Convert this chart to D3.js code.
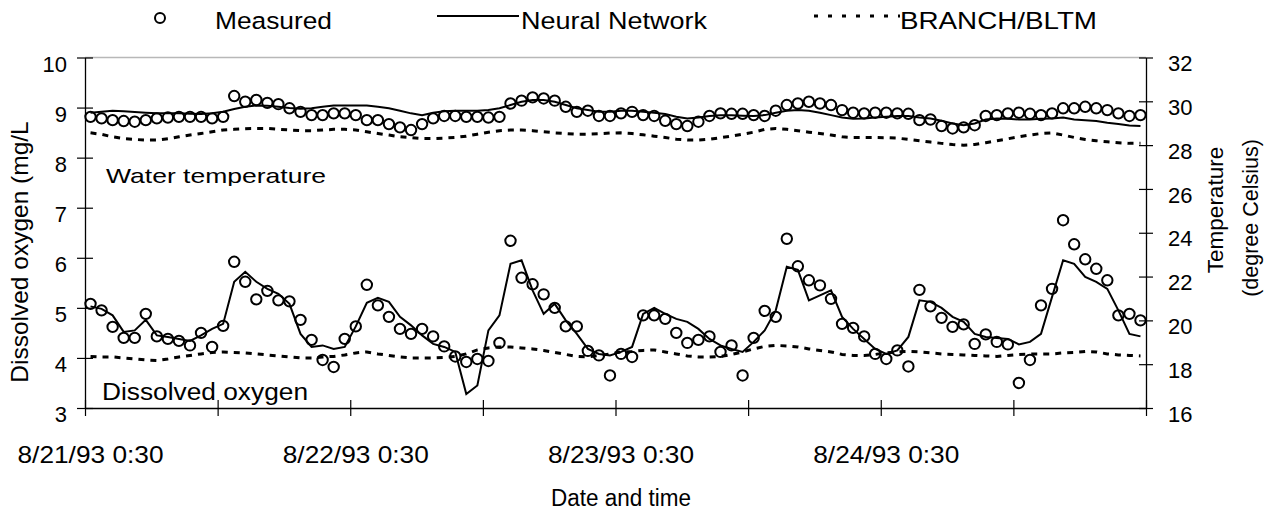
<!DOCTYPE html>
<html lang="en">
<head>
    <meta charset="UTF-8">
    <title>Dissolved oxygen and water temperature</title>
    <style>
        body { margin: 0; background: #fff; }
        svg { display: block; }
        text { font-family: "Liberation Sans", Arial, sans-serif; fill: #000; }
    </style>
</head>
<body>
    <div id="chart"></div>
    <script src="https://d3js.org/d3.v7.min.js"></script>
    <script>
        // hourly categories, 96 points starting 8/21/93 0:30
        const startTime = new Date(1993, 7, 21, 0, 30);
        const times = d3.range(96).map(i => d3.timeHour.offset(startTime, i));
        const labelIndexes = [0, 24, 48, 72];

        const doTicks = [3, 4, 5, 6, 7, 8, 9, 10];
        const tempTicks = [16, 18, 20, 22, 24, 26, 28, 30, 32];

        // Water temperature (degree Celsius)
        const measuredTemp = [
            29.29, 29.22, 29.14, 29.10, 29.07, 29.14, 29.22, 29.26, 29.29, 29.29, 29.29, 29.22, 29.29, 30.24, 29.98, 30.06, 29.93, 29.87, 29.68, 29.52, 29.37, 29.37, 29.45, 29.45, 29.37, 29.14,
            29.14, 28.96, 28.81, 28.69, 28.96, 29.22, 29.33, 29.33, 29.29, 29.29, 29.26, 29.29, 29.90, 30.03, 30.18, 30.13, 30.03, 29.75, 29.52, 29.57, 29.33, 29.33, 29.45, 29.52, 29.37, 29.33, 29.11,
            28.96, 28.87, 29.07, 29.33, 29.45, 29.43, 29.43, 29.37, 29.33, 29.57, 29.83, 29.90, 29.98, 29.90, 29.83, 29.60, 29.48, 29.45, 29.48, 29.48, 29.45, 29.43, 29.14, 29.17, 28.87, 28.76, 28.81,
            28.91, 29.33, 29.37, 29.45, 29.48, 29.43, 29.37, 29.45, 29.68, 29.68, 29.75, 29.68, 29.60, 29.45, 29.33, 29.37
        ];
        const nnTemp = [
            29.48, 29.52, 29.57, 29.55, 29.51, 29.48, 29.45, 29.45, 29.45, 29.43, 29.42, 29.45, 29.52, 29.65, 29.75, 29.81, 29.80, 29.75, 29.69, 29.66, 29.68, 29.75, 29.81, 29.81, 29.81, 29.81,
            29.75, 29.68, 29.57, 29.45, 29.37, 29.48, 29.55, 29.57, 29.57, 29.57, 29.60, 29.68, 29.83, 29.98, 30.06, 30.06, 29.98, 29.83, 29.68, 29.60, 29.52, 29.52, 29.57, 29.57, 29.52, 29.48, 29.42,
            29.30, 29.22, 29.26, 29.33, 29.36, 29.36, 29.34, 29.33, 29.37, 29.48, 29.57, 29.60, 29.57, 29.48, 29.37, 29.26, 29.20, 29.22, 29.26, 29.30, 29.33, 29.33, 29.26, 29.22, 29.11, 28.99, 28.91,
            28.99, 29.17, 29.22, 29.20, 29.17, 29.17, 29.20, 29.22, 29.26, 29.17, 29.14, 29.10, 29.02, 28.96, 28.90, 28.87
        ];
        const branchTemp = [
            28.56, 28.49, 28.38, 28.30, 28.26, 28.23, 28.23, 28.29, 28.38, 28.46, 28.53, 28.61, 28.69, 28.72, 28.75, 28.76, 28.76, 28.72, 28.69, 28.66, 28.66, 28.69, 28.72, 28.72, 28.69, 28.61,
            28.53, 28.46, 28.38, 28.34, 28.30, 28.30, 28.32, 28.35, 28.41, 28.50, 28.59, 28.66, 28.69, 28.69, 28.66, 28.61, 28.56, 28.53, 28.50, 28.50, 28.52, 28.55, 28.56, 28.53, 28.47, 28.41, 28.35,
            28.27, 28.23, 28.23, 28.27, 28.34, 28.41, 28.50, 28.59, 28.72, 28.76, 28.72, 28.66, 28.59, 28.53, 28.46, 28.38, 28.35, 28.35, 28.35, 28.34, 28.32, 28.26, 28.20, 28.14, 28.08, 28.03, 28.00,
            28.03, 28.11, 28.20, 28.29, 28.38, 28.46, 28.53, 28.56, 28.46, 28.35, 28.26, 28.20, 28.15, 28.11, 28.08, 28.08
        ];

        // Dissolved oxygen (mg/L)
        const measuredDO = [
            5.08, 4.95, 4.62, 4.40, 4.40, 4.88, 4.43, 4.38, 4.34, 4.25, 4.50, 4.22, 4.64, 5.92, 5.52, 5.17, 5.34, 5.15, 5.13, 4.76, 4.36, 3.96, 3.82, 4.38, 4.63, 5.46,
            5.05, 4.82, 4.58, 4.48, 4.58, 4.43, 4.23, 4.03, 3.92, 3.98, 3.94, 4.30, 6.34, 5.60, 5.47, 5.27, 5.00, 4.63, 4.63, 4.14, 4.05, 3.65, 4.08, 4.02, 4.85, 4.85, 4.78,
            4.50, 4.30, 4.36, 4.43, 4.12, 4.25, 3.65, 4.40, 4.94, 4.82, 6.38, 5.83, 5.55, 5.45, 5.18, 4.68, 4.60, 4.43, 4.08, 3.98, 4.15, 3.83, 5.36, 5.03, 4.80, 4.62, 4.67,
            4.28, 4.47, 4.32, 4.27, 3.50, 3.96, 5.05, 5.38, 6.75, 6.27, 5.97, 5.78, 5.55, 4.85, 4.88, 4.75
        ];
        const nnDO = [
            5.03, 4.98, 4.85, 4.52, 4.55, 4.76, 4.45, 4.42, 4.38, 4.34, 4.45, 4.58, 4.68, 5.52, 5.72, 5.52, 5.38, 5.28, 5.08, 4.48, 4.22, 4.25, 4.18, 4.22, 4.63, 5.10,
            5.20, 5.12, 4.82, 4.65, 4.45, 4.28, 4.22, 4.12, 3.28, 3.45, 4.55, 4.85, 5.88, 5.95, 5.35, 4.88, 5.08, 4.75, 4.48, 4.18, 4.08, 4.05, 4.12, 4.22, 4.88, 5.00, 4.88,
            4.78, 4.72, 4.58, 4.38, 4.25, 4.18, 4.12, 4.32, 4.55, 4.95, 5.82, 5.76, 5.15, 5.25, 5.35, 4.82, 4.58, 4.38, 4.18, 4.08, 4.15, 4.42, 5.15, 5.12, 5.00, 4.82, 4.72,
            4.48, 4.42, 4.40, 4.38, 4.27, 4.32, 4.48, 5.22, 5.95, 5.88, 5.62, 5.52, 5.38, 4.95, 4.48, 4.43
        ];
        const branchDO = [
            4.03, 4.02, 4.02, 4.00, 3.98, 3.96, 3.95, 3.98, 4.02, 4.05, 4.08, 4.11, 4.12, 4.11, 4.10, 4.08, 4.06, 4.04, 4.02, 4.00, 4.00, 4.02, 4.03, 4.06, 4.10, 4.12,
            4.08, 4.05, 4.02, 4.00, 4.00, 4.00, 4.01, 4.03, 4.08, 4.16, 4.20, 4.22, 4.22, 4.20, 4.18, 4.15, 4.11, 4.07, 4.03, 4.02, 4.05, 4.08, 4.12, 4.13, 4.15, 4.16, 4.12,
            4.08, 4.04, 4.02, 4.02, 4.03, 4.07, 4.12, 4.18, 4.23, 4.25, 4.24, 4.22, 4.18, 4.15, 4.12, 4.07, 4.05, 4.05, 4.07, 4.10, 4.12, 4.13, 4.12, 4.10, 4.08, 4.07, 4.06,
            4.05, 4.04, 4.03, 4.05, 4.07, 4.08, 4.08, 4.08, 4.10, 4.11, 4.13, 4.12, 4.08, 4.06, 4.05, 4.04
        ];

        const width = 1274;
        const height = 512;
        const plotLeft = 85, plotRight = 1146, plotTop = 57.5, plotBottom = 408;

        const svg = d3.select("#chart").append("svg")
            .attr("width", width)
            .attr("height", height);

        // category axis: one band per hour, points in the middle of each band
        const x = d3.scaleBand().domain(d3.range(times.length)).range([plotLeft, plotRight]);
        const cx = i => x(i) + x.bandwidth() / 2;
        const xEdge = d3.scaleLinear().domain([0, times.length]).range([plotLeft, plotRight]);

        const yDO = d3.scaleLinear().domain([3, 10]).range([plotBottom, plotTop]);
        const yT = d3.scaleLinear().domain([16, 32]).range([plotBottom, plotTop]);

        // grey line at the top of the plot
        svg.append("line")
            .attr("x1", plotLeft).attr("x2", plotRight)
            .attr("y1", yDO(10)).attr("y2", yDO(10))
            .attr("stroke", "#b8b8b8")
            .attr("stroke-width", 1.5);

        // left axis
        svg.append("g")
            .attr("transform", `translate(${plotLeft},0)`)
            .call(d3.axisLeft(yDO).tickValues(doTicks).tickFormat(d3.format("d"))
                .tickSizeInner(8).tickSizeOuter(0).tickPadding(10))
            .call(g => g.select(".domain").attr("stroke", "#000").attr("stroke-width", 1.3))
            .call(g => g.selectAll(".tick line").attr("x1", 8).attr("stroke-width", 1.2))
            .call(g => g.selectAll(".tick text")
                .attr("dy", "0.62em")
                .style("font-size", "22px")
                .style("font-family", "Liberation Sans, Arial, sans-serif"));

        // right axis
        svg.append("g")
            .attr("transform", `translate(${plotRight},0)`)
            .call(d3.axisRight(yT).tickValues(tempTicks).tickFormat(d3.format("d"))
                .tickSizeInner(7).tickSizeOuter(0).tickPadding(15))
            .call(g => g.select(".domain").attr("stroke", "#000").attr("stroke-width", 1.3))
            .call(g => g.selectAll(".tick line").attr("x1", -7).attr("stroke-width", 1.2))
            .call(g => g.selectAll(".tick text")
                .attr("dy", "0.6em")
                .style("font-size", "22px")
                .style("font-family", "Liberation Sans, Arial, sans-serif"));

        // bottom axis: tick marks between categories every 12 hours
        svg.append("g")
            .attr("transform", `translate(0,${plotBottom})`)
            .call(d3.axisBottom(xEdge).tickValues(d3.range(0, times.length + 1, 12)).tickFormat("").tickSizeInner(8).tickSizeOuter(0))
            .call(g => g.select(".domain").attr("stroke", "#000").attr("stroke-width", 1.6))
            .call(g => g.selectAll(".tick line").attr("y1", -8).attr("stroke-width", 1.2));

        const fmt = d3.timeFormat("%-m/%-d/%y %-H:%M");
        svg.append("g").selectAll("text")
            .data(labelIndexes)
            .enter().append("text")
            .attr("x", d => cx(d))
            .attr("y", 462.5)
            .attr("text-anchor", "middle")
            .attr("textLength", 146)
            .attr("lengthAdjust", "spacingAndGlyphs")
            .style("font-size", "24px")
            .text(d => fmt(times[d]));

        // lines
        const tempLine = d3.line().x((d, i) => cx(i)).y(d => yT(d));
        const doLine = d3.line().x((d, i) => cx(i)).y(d => yDO(d));

        const plot = svg.append("g");

        plot.append("path").datum(branchTemp)
            .attr("d", tempLine)
            .attr("fill", "none").attr("stroke", "#000")
            .attr("stroke-width", 3).attr("stroke-dasharray", "6,6");
        plot.append("path").datum(branchDO)
            .attr("d", doLine)
            .attr("fill", "none").attr("stroke", "#000")
            .attr("stroke-width", 3).attr("stroke-dasharray", "6,6");

        plot.append("path").datum(nnTemp)
            .attr("d", tempLine)
            .attr("fill", "none").attr("stroke", "#000").attr("stroke-width", 2);
        plot.append("path").datum(nnDO)
            .attr("d", doLine)
            .attr("fill", "none").attr("stroke", "#000").attr("stroke-width", 2);

        plot.append("g").selectAll("circle")
            .data(measuredTemp)
            .enter().append("circle")
            .attr("cx", (d, i) => cx(i))
            .attr("cy", d => yT(d))
            .attr("r", 5.2)
            .attr("fill", "none").attr("stroke", "#000").attr("stroke-width", 2);

        plot.append("g").selectAll("circle")
            .data(measuredDO)
            .enter().append("circle")
            .attr("cx", (d, i) => cx(i))
            .attr("cy", d => yDO(d))
            .attr("r", 5.2)
            .attr("fill", "none").attr("stroke", "#000").attr("stroke-width", 2);

        // in-plot labels
        svg.append("clipPath").attr("id", "wt-clip")
            .append("rect").attr("x", 0).attr("y", 0).attr("width", width).attr("height", 186);
        svg.append("text")
            .attr("clip-path", "url(#wt-clip)")
            .attr("x", 106).attr("y", 182.5)
            .attr("textLength", 220).attr("lengthAdjust", "spacingAndGlyphs")
            .style("font-size", "21px")
            .text("Water temperature");

        svg.append("text")
            .attr("x", 102).attr("y", 400)
            .attr("textLength", 206).attr("lengthAdjust", "spacingAndGlyphs")
            .style("font-size", "23px")
            .text("Dissolved oxygen");

        // axis titles
        svg.append("text")
            .attr("transform", "translate(28,252) rotate(-90)")
            .attr("text-anchor", "middle")
            .style("font-size", "24.5px")
            .text("Dissolved oxygen (mg/L");

        svg.append("text")
            .attr("transform", "translate(1223,210) rotate(-90)")
            .attr("text-anchor", "middle")
            .style("font-size", "22.5px")
            .text("Temperature");
        svg.append("text")
            .attr("transform", "translate(1258,218) rotate(-90)")
            .attr("text-anchor", "middle")
            .style("font-size", "21.5px")
            .text("(degree Celsius)");

        svg.append("text")
            .attr("x", 621).attr("y", 506)
            .attr("text-anchor", "middle")
            .attr("textLength", 140).attr("lengthAdjust", "spacingAndGlyphs")
            .style("font-size", "23px")
            .text("Date and time");

        // legend
        const legend = svg.append("g");
        legend.append("circle")
            .attr("cx", 160).attr("cy", 18).attr("r", 5)
            .attr("fill", "none").attr("stroke", "#000").attr("stroke-width", 2);
        legend.append("text")
            .attr("x", 215).attr("y", 29)
            .attr("textLength", 117).attr("lengthAdjust", "spacingAndGlyphs")
            .style("font-size", "24.5px")
            .text("Measured");
        legend.append("line")
            .attr("x1", 437).attr("x2", 519).attr("y1", 16).attr("y2", 16)
            .attr("stroke", "#000").attr("stroke-width", 2);
        legend.append("text")
            .attr("x", 521).attr("y", 29)
            .attr("textLength", 186).attr("lengthAdjust", "spacingAndGlyphs")
            .style("font-size", "24.5px")
            .text("Neural Network");
        legend.append("line")
            .attr("x1", 814).attr("x2", 900).attr("y1", 16).attr("y2", 16)
            .attr("stroke", "#000").attr("stroke-width", 3).attr("stroke-dasharray", "4,10");
        legend.append("text")
            .attr("x", 900).attr("y", 29)
            .attr("textLength", 197).attr("lengthAdjust", "spacingAndGlyphs")
            .style("font-size", "24.5px")
            .text("BRANCH/BLTM");
    </script>
</body>
</html>
